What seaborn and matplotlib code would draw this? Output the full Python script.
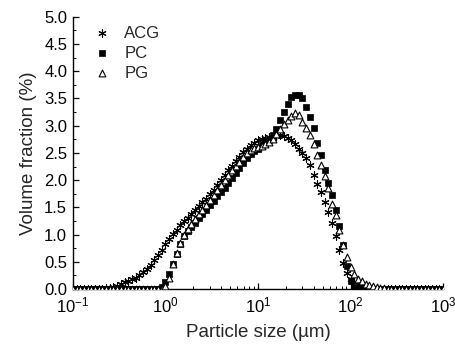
import numpy as np
import pandas as pd
import matplotlib
matplotlib.use("Agg")
import matplotlib.pyplot as plt
import seaborn as sns
from matplotlib.ticker import MultipleLocator, LogLocator, NullFormatter

# size bins (mantissas per decade, 0.1 .. 1000 µm)
mantissa = [1.00, 1.10, 1.20, 1.32, 1.45, 1.58, 1.74, 1.91, 2.09, 2.29, 2.51, 2.75, 3.02,
            3.31, 3.63, 3.98, 4.37, 4.79, 5.25, 5.75, 6.31, 6.92, 7.59, 8.32, 9.12]
decades = [0.1, 1, 10, 100]
size = [m * d for d in decades for m in mantissa] + [1000.0]

acg = [0]*9 + [0.01, 0.02, 0.04, 0.06, 0.09, 0.12, 0.15, 0.18, 0.21, 0.26, 0.31, 0.37, 0.44,
       0.53, 0.62, 0.72, 0.82, 0.92, 1.01, 1.09, 1.17, 1.24, 1.31, 1.38, 1.45, 1.52, 1.59,
       1.66, 1.74, 1.82, 1.91, 2.00, 2.09, 2.18, 2.26, 2.35, 2.43, 2.51, 2.58, 2.64, 2.69,
       2.73, 2.76, 2.78, 2.79, 2.80, 2.81, 2.82, 2.81, 2.78, 2.73, 2.66, 2.58, 2.50, 2.40,
       2.28, 2.10, 1.92, 1.78, 1.60, 1.42, 1.22, 0.98, 0.72, 0.48, 0.30, 0.19, 0.13, 0.09,
       0.06, 0.04, 0.03, 0.02, 0.01] + [0]*18
pc = [0]*24 + [0.03, 0.12, 0.28, 0.45, 0.64, 0.82, 0.97, 1.06, 1.14, 1.22, 1.30, 1.38, 1.46,
      1.54, 1.62, 1.70, 1.78, 1.86, 1.95, 2.04, 2.13, 2.22, 2.31, 2.40, 2.48, 2.54, 2.58,
      2.64, 2.68, 2.74, 2.82, 2.94, 3.10, 3.25, 3.40, 3.52, 3.57, 3.57, 3.50, 3.35, 3.16,
      2.95, 2.68, 2.46, 2.18, 1.94, 1.73, 1.45, 1.15, 0.80, 0.42, 0.15, 0.03] + [0]*24
pg = [0]*25 + [0.06, 0.20, 0.45, 0.66, 0.85, 1.00, 1.10, 1.19, 1.28, 1.37, 1.46, 1.55, 1.64,
      1.73, 1.82, 1.91, 2.00, 2.09, 2.18, 2.26, 2.34, 2.42, 2.49, 2.55, 2.59, 2.61, 2.62,
      2.66, 2.70, 2.76, 2.85, 2.94, 3.03, 3.10, 3.18, 3.23, 3.20, 3.07, 2.95, 2.83, 2.66,
      2.47, 2.28, 2.08, 1.85, 1.57, 1.35, 1.08, 0.80, 0.58, 0.40, 0.27, 0.19, 0.14, 0.10,
      0.07, 0.05, 0.03, 0.02, 0.01] + [0]*16

series_names = ["ACG", "PC", "PG"]

sns.set_theme(style="ticks")
plt.rcParams["font.family"] = ["Liberation Sans", "DejaVu Sans"]
plt.rcParams["mathtext.default"] = "regular"

fig = plt.figure(figsize=(4.55, 3.44), dpi=100)
ax = fig.add_axes([0.160, 0.160, 0.814, 0.791])

df = pd.concat([
    pd.DataFrame({"size": size, "vf": acg, "sample": "ACG"}),
    pd.DataFrame({"size": size, "vf": pc, "sample": "PC"}),
    pd.DataFrame({"size": size, "vf": pg, "sample": "PG"}),
])

styles = {
    "ACG": dict(marker=(6, 2, 0), s=28, color="black", linewidth=0.8),
    "PC": dict(marker="s", s=20, color="black", edgecolor="black", linewidth=0.5),
    "PG": dict(marker="^", s=24, facecolor="white", edgecolor="black", linewidth=0.8),
}
for name in series_names:
    sub = df[df["sample"] == name]
    sns.scatterplot(data=sub, x="size", y="vf", ax=ax, label=name, zorder=3, **styles[name])

ax.set_xscale("log")
ax.set_xlim(0.1, 1000)
ax.set_ylim(0, 5.0)
ax.yaxis.set_major_locator(MultipleLocator(0.5))
ax.yaxis.set_minor_locator(MultipleLocator(0.25))
ax.yaxis.set_major_formatter(matplotlib.ticker.FormatStrFormatter("%.1f"))
ax.xaxis.set_major_locator(LogLocator(base=10, numticks=10))
ax.xaxis.set_minor_locator(LogLocator(base=10, subs=np.arange(2, 10), numticks=20))
ax.xaxis.set_minor_formatter(NullFormatter())

for s in ["top", "right"]:
    ax.spines[s].set_visible(False)
for s in ["left", "bottom"]:
    ax.spines[s].set_linewidth(1.0)
    ax.spines[s].set_color("black")

ax.tick_params(axis="both", which="major", direction="in", length=4, width=0.9,
               labelsize=12, colors="black")
ax.tick_params(axis="x", which="major", pad=5)
ax.tick_params(axis="y", which="major", pad=4)
ax.tick_params(axis="both", which="minor", direction="in", length=2, width=0.7, colors="black")

ax.set_xlabel("Particle size (µm)", fontsize=13.5, labelpad=6)
ax.set_ylabel("Volume fraction (%)", fontsize=13.5, labelpad=5)

leg = ax.legend(loc="upper left", bbox_to_anchor=(0.056, 0.967), frameon=False, fontsize=12,
                handlelength=1.0, handletextpad=0.85, labelspacing=0.3,
                borderpad=0.0, borderaxespad=0.0)

fig.savefig("out.png", dpi=100)
